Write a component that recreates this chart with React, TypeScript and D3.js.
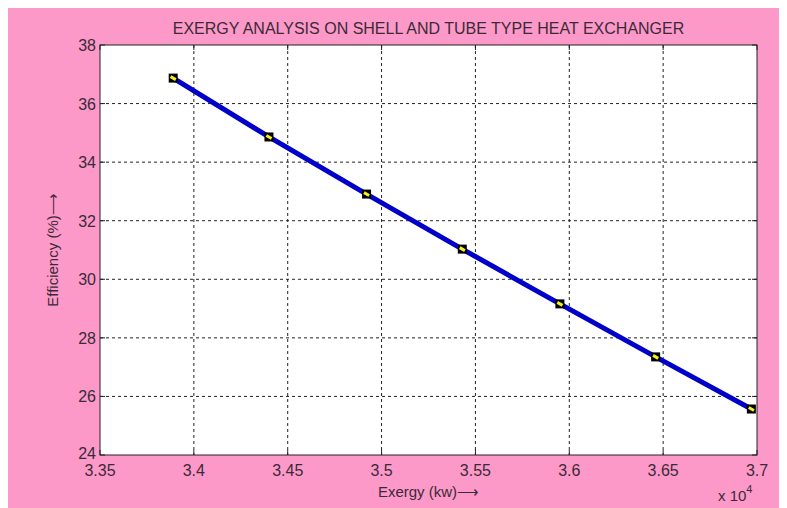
import React from 'react';
import * as d3 from 'd3';

// exergy (kW) vs efficiency (%)
const exergy = [33890, 34400, 34920, 35430, 35950, 36460, 36970];
const efficiency = [36.87, 34.86, 32.91, 31.03, 29.16, 27.35, 25.57];
const xTicks = [3.35, 3.4, 3.45, 3.5, 3.55, 3.6, 3.65, 3.7];
const yTicks = [24, 26, 28, 30, 32, 34, 36, 38];

const W = 779;
const H = 500;
const margins = { left: 92, top: 37, right: 30, bottom: 53 };
const font = '"Liberation Sans", Arial, sans-serif';
const ink = '#3a2a36';

const App = () => {
  const xScale = d3.scaleLinear().domain([3.35, 3.7]).range([margins.left, W - margins.right]);
  const yScale = d3.scaleLinear().domain([24, 38]).range([H - margins.bottom, margins.top]);
  const x0 = margins.left, x1 = W - margins.right, y0 = H - margins.bottom, y1 = margins.top;

  const pts: [number, number][] = exergy.map((e, i) => [xScale(e / 1e4), yScale(efficiency[i])]);
  const line = d3.line()(pts) || '';
  const ang = Math.atan2(pts[pts.length - 1][1] - pts[0][1], pts[pts.length - 1][0] - pts[0][0]);

  return (
    <svg width={W} height={H} style={{ display: 'block' }} fontFamily={font}>
      <rect width={W} height={H} fill="#fd99c9" />
      <rect x={x0} y={y1} width={x1 - x0} height={y0 - y1} fill="#fff" />

      {/* grid */}
      {xTicks.slice(1, -1).map(t => (
        <line key={'gx' + t} x1={xScale(t)} x2={xScale(t)} y1={y1} y2={y0} stroke="#222" strokeDasharray="3,3" />
      ))}
      {yTicks.slice(1, -1).map(t => (
        <line key={'gy' + t} x1={x0} x2={x1} y1={yScale(t)} y2={yScale(t)} stroke="#222" strokeDasharray="3,3" />
      ))}

      {/* ticks inside */}
      {xTicks.map(t => (
        <g key={'tx' + t}>
          <line x1={xScale(t)} x2={xScale(t)} y1={y0} y2={y0 - 5} stroke="#222" />
          <line x1={xScale(t)} x2={xScale(t)} y1={y1} y2={y1 + 5} stroke="#222" />
          <text x={xScale(t)} y={y0 + 21} textAnchor="middle" fontSize={16} fill={ink}>{t}</text>
        </g>
      ))}
      {yTicks.map(t => (
        <g key={'ty' + t}>
          <line x1={x0} x2={x0 + 5} y1={yScale(t)} y2={yScale(t)} stroke="#222" />
          <line x1={x1} x2={x1 - 5} y1={yScale(t)} y2={yScale(t)} stroke="#222" />
          <text x={x0 - 4} y={t === 24 ? yScale(t) + 4 : yScale(t) + 6} textAnchor="end" fontSize={16} fill={ink}>{t}</text>
        </g>
      ))}

      <rect x={x0} y={y1} width={x1 - x0} height={y0 - y1} fill="none" stroke="#222" />

      {/* data */}
      <path d={line} fill="none" stroke="#0000c8" strokeWidth={5} />
      {pts.map(([px, py], i) => (
        <g key={'m' + i} transform={`translate(${px},${py})`}>
          <rect x={-4.5} y={-4.5} width={9} height={9} fill="#000" />
          <line x1={-3 * Math.cos(ang)} y1={-3 * Math.sin(ang)} x2={3 * Math.cos(ang)} y2={3 * Math.sin(ang)} stroke="#f5f020" strokeWidth={3} />
        </g>
      ))}

      {/* labels */}
      <text x={(x0 + x1) / 2} y={26} textAnchor="middle" fontSize={16} fill={ink}>
        EXERGY ANALYSIS ON SHELL AND TUBE TYPE HEAT EXCHANGER
      </text>
      <text x={(x0 + x1) / 2} y={489} textAnchor="middle" fontSize={15} fill={ink}>Exergy (kw)⟶</text>
      <text transform={`translate(50,${(y0 + y1) / 2}) rotate(-90)`} textAnchor="middle" fontSize={15} fill={ink}>Efficiency (%)⟶</text>
      <text x={710} y={493} fontSize={15} fill={ink}>x 10<tspan dy={-8} fontSize={11}>4</tspan></text>
    </svg>
  );
};

export default App;
